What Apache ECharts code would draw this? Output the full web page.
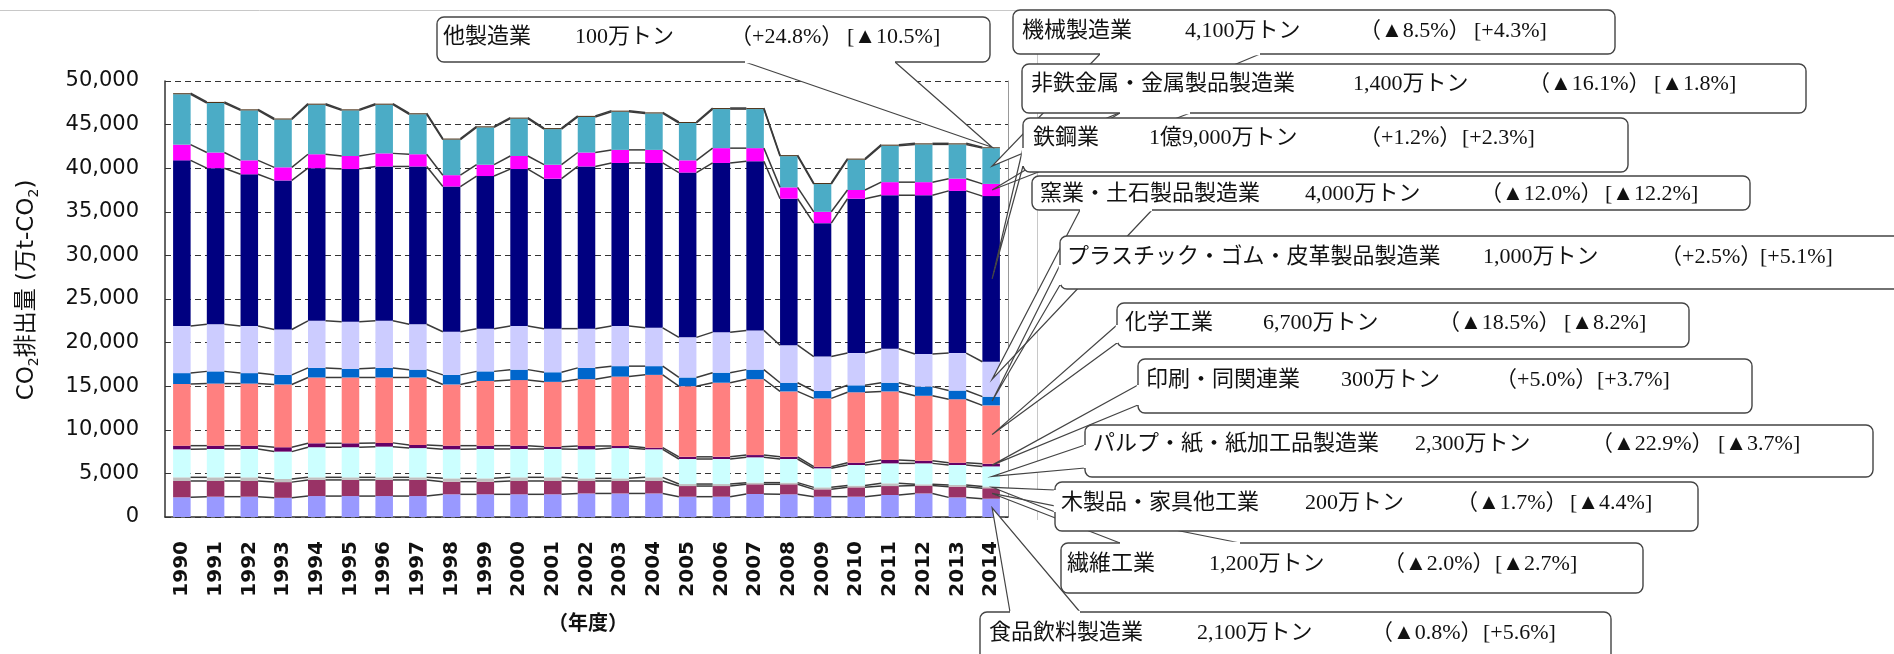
<!DOCTYPE html>
<html>
<head>
<meta charset="utf-8">
<title>産業部門 CO2排出量</title>
<script src="https://cdn.jsdelivr.net/npm/echarts@6/dist/echarts.min.js"></script>
<style>
html, body { margin: 0; padding: 0; background: #fff; }
#chart { width: 1894px; height: 654px; }
</style>
</head>
<body>
<div id="chart"></div>
<script>
// 年度
var years = ['1990', '1991', '1992', '1993', '1994', '1995', '1996', '1997', '1998', '1999',
  '2000', '2001', '2002', '2003', '2004', '2005', '2006', '2007', '2008', '2009',
  '2010', '2011', '2012', '2013', '2014']

// 万t-CO2, 下から順に積み上げ
var food = [2260, 2330, 2330, 2200, 2400, 2400, 2400, 2400, 2600, 2600, 2600, 2600, 2700, 2700, 2700, 2330, 2330, 2640, 2600, 2330, 2330, 2520, 2700, 2250, 2100]
var textile = [1870, 1800, 1800, 1800, 1850, 1850, 1850, 1850, 1450, 1450, 1530, 1530, 1430, 1430, 1430, 1220, 1220, 1110, 1150, 840, 1070, 1030, 900, 1230, 1200]
var wood = [420, 420, 420, 360, 300, 300, 300, 300, 380, 380, 420, 420, 300, 300, 420, 230, 230, 190, 190, 230, 200, 310, 150, 190, 200]
var pulp = [3210, 3250, 3250, 3140, 3450, 3450, 3520, 3350, 3330, 3370, 3250, 3250, 3330, 3470, 3210, 2870, 2870, 2900, 2710, 2180, 2360, 2290, 2400, 2290, 2300]
var printing = [420, 380, 380, 500, 450, 450, 430, 360, 420, 380, 380, 270, 380, 240, 190, 250, 250, 260, 250, 190, 270, 390, 310, 270, 300]
var chemical = [7070, 7120, 7120, 7200, 7550, 7550, 7500, 7740, 7020, 7420, 7520, 7430, 7660, 7960, 8350, 8100, 8500, 8700, 7500, 7830, 8070, 7860, 7440, 7270, 6700]
var plastic = [1250, 1400, 1200, 1100, 1100, 1000, 1100, 900, 1100, 1100, 1200, 1100, 1300, 1200, 1000, 1000, 1150, 1100, 1000, 850, 800, 1000, 1050, 1000, 1000]
var ceramic = [5400, 5400, 5400, 5200, 5400, 5400, 5400, 5200, 4950, 4900, 5000, 5000, 4500, 4600, 4400, 4600, 4650, 4500, 4300, 3950, 3700, 3900, 3750, 4300, 4000]
var steel = [19000, 17900, 17400, 17100, 17500, 17500, 17700, 18100, 16650, 17500, 18000, 17200, 18600, 18700, 18900, 18900, 19400, 19400, 16800, 15300, 17700, 17600, 18200, 18600, 19000]
var nonferrous = [1800, 1800, 1600, 1500, 1600, 1500, 1500, 1400, 1300, 1300, 1500, 1600, 1600, 1500, 1500, 1400, 1700, 1500, 1300, 1300, 1000, 1500, 1500, 1400, 1400]
var machinery = [5780, 5680, 5730, 5480, 5680, 5230, 5580, 4580, 4080, 4280, 4280, 4080, 4080, 4380, 4180, 4280, 4480, 4480, 3580, 3180, 3480, 4180, 4330, 3930, 4100]
var otherMfg = [120, 120, 120, 120, 120, 120, 120, 120, 120, 120, 120, 120, 120, 120, 120, 120, 120, 120, 120, 120, 120, 120, 120, 120, 100]

var yTicks = [0, 5000, 10000, 15000, 20000, 25000, 30000, 35000, 40000, 45000, 50000]

var names = ['食品飲料製造業', '繊維工業', '木製品・家具他工業', 'パルプ・紙・紙加工品製造業', '印刷・同関連業',
  '化学工業', 'プラスチック・ゴム・皮革製品製造業', '窯業・土石製品製造業', '鉄鋼業',
  '非鉄金属・金属製品製造業', '機械製造業', '他製造業']
var stackData = [food, textile, wood, pulp, printing, chemical, plastic, ceramic, steel, nonferrous, machinery, otherMfg]
var colors = ['#9999FF', '#993366', '#C0C0C0', '#CCFFFF', '#660066', '#FF8080', '#0066CC',
  '#CCCCFF', '#000080', '#FF00FF', '#4BACC6', '#4D3319']

// 吹き出しの文言 (2014年度)
var calloutText = [
  ['他製造業', '100万トン', '（+24.8%）', '[▲10.5%]'],
  ['機械製造業', '4,100万トン', '（▲8.5%）', '[+4.3%]'],
  ['非鉄金属・金属製品製造業', '1,400万トン', '（▲16.1%）', '[▲1.8%]'],
  ['鉄鋼業', '1億9,000万トン', '（+1.2%）', '[+2.3%]'],
  ['窯業・土石製品製造業', '4,000万トン', '（▲12.0%）', '[▲12.2%]'],
  ['プラスチック・ゴム・皮革製品製造業', '1,000万トン', '（+2.5%）', '[+5.1%]'],
  ['化学工業', '6,700万トン', '（▲18.5%）', '[▲8.2%]'],
  ['印刷・同関連業', '300万トン', '（+5.0%）', '[+3.7%]'],
  ['パルプ・紙・紙加工品製造業', '2,300万トン', '（▲22.9%）', '[▲3.7%]'],
  ['木製品・家具他工業', '200万トン', '（▲1.7%）', '[▲4.4%]'],
  ['繊維工業', '1,200万トン', '（▲2.0%）', '[▲2.7%]'],
  ['食品飲料製造業', '2,100万トン', '（▲0.8%）', '[+5.6%]']
]

// 吹き出しの配置 (seg = 指す系列)
var boxes = [
  { x: 437, y: 17, w: 553, h: 45, ty: 37, tx: [443, 575, 730, 847], base: [[745, 62], [895, 62]], seg: 11 },
  { x: 1013, y: 10, w: 602, h: 44, ty: 31, tx: [1022, 1185, 1359, 1474], base: [[1100, 54], [1260, 54]], seg: 10 },
  { x: 1022, y: 64, w: 784, h: 49, ty: 84, tx: [1031, 1353, 1528, 1654], base: [[1120, 113], [1190, 113]], seg: 9 },
  { x: 1023, y: 118, w: 605, h: 54, ty: 138, tx: [1033, 1149, 1359, 1462], base: [[1023, 148], [1023, 166]], seg: 8 },
  { x: 1032, y: 176, w: 718, h: 34, ty: 194, tx: [1040, 1305, 1480, 1605], base: [[1080, 210], [1152, 210]], seg: 7 },
  { x: 1060, y: 236, w: 900, h: 53, ty: 257, tx: [1067, 1483, 1660, 1760], base: [[1060, 265], [1060, 285]], seg: 6 },
  { x: 1117, y: 303, w: 572, h: 44, ty: 323, tx: [1125, 1263, 1438, 1564], base: [[1117, 325], [1117, 343]], seg: 5 },
  { x: 1138, y: 359, w: 614, h: 54, ty: 380, tx: [1146, 1341, 1495, 1597], base: [[1138, 385], [1138, 405]], seg: 4 },
  { x: 1085, y: 425, w: 788, h: 52, ty: 444, tx: [1093, 1415, 1591, 1718], base: [[1085, 445], [1085, 468]], seg: 3 },
  { x: 1055, y: 482, w: 643, h: 49, ty: 503, tx: [1061, 1305, 1456, 1570], base: [[1055, 490], [1055, 512]], seg: 2 },
  { x: 1061, y: 543, w: 582, h: 50, ty: 564, tx: [1067, 1209, 1383, 1495], base: [[1120, 543], [1240, 543]], seg: 1 },
  { x: 980, y: 612, w: 631, h: 60, ty: 633, tx: [989, 1197, 1371, 1483], base: [[1010, 612], [1080, 612]], seg: 0 }
]

var barRatio = 0.52

// 積み上げ累計
var cum = years.map(function (y, i) {
  var s = 0
  return stackData.map(function (arr) { s += arr[i]; return s })
})

var chart = echarts.init(document.getElementById('chart'))

var series = stackData.map(function (arr, k) {
  return {
    name: names[k],
    type: 'bar',
    stack: 'total',
    barWidth: (barRatio * 100) + '%',
    data: arr,
    itemStyle: { color: colors[k] },
    z: 2
  }
})

// 区分線 (棒と棒を結ぶ線)
series.push({
  type: 'custom',
  z: 3,
  silent: true,
  encode: { x: 0, y: 1 },
  data: years.map(function (y, i) { return [i, cum[i][cum[i].length - 1]] }),
  renderItem: function (params, api) {
    var i = params.dataIndex
    if (i >= years.length - 1) return
    var half = api.size([1, 0])[0] * barRatio / 2
    var children = cum[i].map(function (v, k) {
      var p1 = api.coord([i, v])
      var p2 = api.coord([i + 1, cum[i + 1][k]])
      return {
        type: 'line',
        shape: { x1: p1[0] + half, y1: p1[1], x2: p2[0] - half, y2: p2[1] },
        style: { stroke: '#3a3a3a', lineWidth: 1.5 }
      }
    })
    return { type: 'group', children: children }
  }
})

var option = {
  animation: false,
  backgroundColor: '#fff',
  grid: { left: 165, right: 886, top: 81, bottom: 137 },
  xAxis: {
    type: 'category',
    data: years,
    axisLine: { lineStyle: { color: '#333', width: 1.5 } },
    axisTick: { inside: true, length: 7, lineStyle: { color: '#333' } },
    axisLabel: {
      rotate: 90,
      margin: 24,
      color: '#111',
      fontSize: 20,
      fontWeight: 'bold',
      fontFamily: 'DejaVu Sans'
    }
  },
  yAxis: [{
    type: 'value',
    min: yTicks[0],
    max: yTicks[yTicks.length - 1],
    interval: yTicks[1] - yTicks[0],
    axisLine: { show: true, lineStyle: { color: '#333', width: 1.5 } },
    axisTick: { show: true, inside: true, length: 5, lineStyle: { color: '#333' } },
    axisLabel: {
      margin: 26,
      color: '#111',
      fontSize: 21,
      fontFamily: 'DejaVu Sans',
      formatter: function (v) { return v.toLocaleString('en-US') }
    },
    splitLine: { lineStyle: { color: '#333', width: 1, type: [6, 4] } }
  }, {
    type: 'value',
    position: 'right',
    min: yTicks[0],
    max: yTicks[yTicks.length - 1],
    axisLine: { show: true, lineStyle: { color: '#999', width: 1 } },
    axisTick: { show: false },
    axisLabel: { show: false },
    splitLine: { show: false }
  }],
  series: series
}
chart.setOption(option)

// 吹き出しと軸タイトル
var last = years.length - 1
var g = []
var cjk = "'Liberation Serif', 'Noto Sans CJK JP'"

// グラフエリアの枠 (上辺と右辺)
g.push({
  type: 'polyline', z: 1, silent: true,
  shape: { points: [[0, 10.5], [1037.5, 10.5], [1037.5, 520]] },
  style: { stroke: '#c8c8c8', lineWidth: 1, fill: null }
})

boxes.forEach(function (b, n) {
  var k = b.seg
  var lo = k === 0 ? 0 : cum[last][k - 1]
  var hi = cum[last][k]
  var tipVal = k === stackData.length - 1 ? hi : (lo + hi) / 2
  var tip = chart.convertToPixel({ gridIndex: 0 }, [last, tipVal])
  var tx = tip[0] + 1
  var ty = tip[1]
  g.push({
    type: 'polygon', z: 50, silent: true,
    shape: { points: [b.base[0], [tx, ty], b.base[1]] },
    style: { fill: '#fff', stroke: null }
  })
  g.push({
    type: 'polyline', z: 51, silent: true,
    shape: { points: [b.base[0], [tx, ty], b.base[1]] },
    style: { stroke: '#444', lineWidth: 1.2, fill: null }
  })
  g.push({
    type: 'rect', z: 60 + n * 3, silent: true,
    shape: { x: b.x, y: b.y, width: b.w, height: b.h, r: 7 },
    style: { fill: '#fff', stroke: '#444', lineWidth: 1.4 }
  })
  // 尻尾の付け根で枠線を切る
  g.push({
    type: 'line', z: 61 + n * 3, silent: true,
    shape: { x1: b.base[0][0], y1: b.base[0][1], x2: b.base[1][0], y2: b.base[1][1] },
    style: { stroke: '#fff', lineWidth: 2.5 }
  })
  calloutText[n].forEach(function (t, j) {
    g.push({
      type: 'text', z: 62 + n * 3, silent: true,
      x: b.tx[j], y: b.ty,
      style: {
        text: t, fill: '#111', fontSize: 22, fontFamily: cjk,
        align: 'left', verticalAlign: 'middle'
      }
    })
  })
})

g.push({
  type: 'text', z: 100, silent: true,
  x: 27, y: 290, rotation: Math.PI / 2,
  style: {
    text: '{a|CO}{b|2}{a|排出量 (万t-CO}{b|2}{a|)}',
    align: 'center', verticalAlign: 'middle',
    rich: {
      a: { fontSize: 23, lineHeight: 28, fontFamily: "'DejaVu Sans', 'Noto Sans CJK JP'", fill: '#111' },
      b: { fontSize: 14, lineHeight: 28, verticalAlign: 'bottom', fontFamily: 'DejaVu Sans', fill: '#111' }
    }
  }
})
g.push({
  type: 'text', z: 100, silent: true,
  x: 588, y: 622,
  style: {
    text: '（年度）', fill: '#111', fontSize: 20, fontWeight: 'bold',
    fontFamily: 'Noto Sans CJK JP', align: 'center', verticalAlign: 'middle'
  }
})

chart.setOption({ graphic: g })
</script>
</body>
</html>
